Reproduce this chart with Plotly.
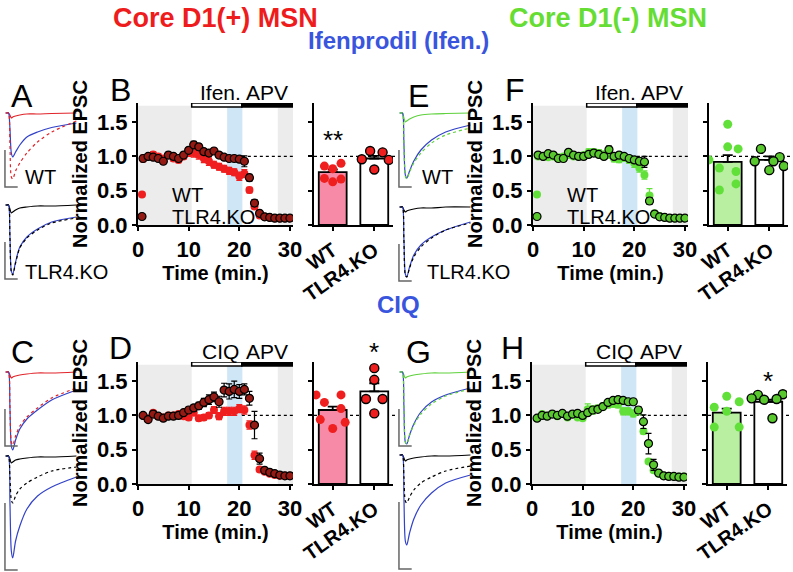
import plotly.graph_objects as go

W, H = 793, 572
FONT = "Liberation Sans, Arial, sans-serif"

# ---------------- data ----------------
minutes = list(range(1, 31))

B_wt = [0.97, 1.00, 1.03, 1.00, 0.97, 1.02, 0.97, 0.95, 1.00, 1.05, 1.05, 1.02, 0.97, 0.93, 0.88,
        0.85, 0.82, 0.79, 0.77, 0.71, 0.75, 0.51, 0.27, 0.14, 0.12, 0.11, 0.10, 0.10, 0.10, 0.10]
B_wt_err = [0.05, 0.04, 0.04, 0.04, 0.04, 0.03, 0.04, 0.04, 0.04, 0.05, 0.06, 0.06, 0.06, 0.06, 0.05,
            0.05, 0.05, 0.05, 0.05, 0.06, 0.06, 0.04, 0.03, 0.02, 0.01, 0.01, 0.01, 0.01, 0.01, 0.01]
B_ko = [0.97, 1.00, 0.99, 0.97, 0.93, 1.02, 1.00, 0.97, 1.02, 1.09, 1.17, 1.14, 1.07, 1.05, 1.08,
        1.02, 0.99, 0.97, 0.97, 0.96, 0.93, 0.69, 0.32, 0.17, 0.12, 0.11, 0.10, 0.10, 0.10, 0.10]
B_ko_err = [0.03, 0.03, 0.03, 0.03, 0.03, 0.03, 0.03, 0.03, 0.03, 0.04, 0.05, 0.04, 0.04, 0.04, 0.04,
            0.03, 0.03, 0.03, 0.03, 0.04, 0.08, 0.05, 0.05, 0.02, 0.01, 0.01, 0.01, 0.01, 0.01, 0.01]

F_wt = [1.00, 1.00, 0.99, 1.00, 0.99, 1.00, 1.02, 1.00, 1.00, 1.02, 1.06, 1.06, 1.05, 1.03, 1.02,
        0.97, 0.96, 0.98, 0.95, 0.90, 0.83, 0.73, 0.43, 0.17, 0.13, 0.11, 0.10, 0.10, 0.10, 0.10]
F_wt_err = [0.02, 0.02, 0.02, 0.02, 0.02, 0.02, 0.02, 0.02, 0.02, 0.03, 0.05, 0.05, 0.05, 0.05, 0.05,
            0.05, 0.05, 0.05, 0.05, 0.06, 0.06, 0.06, 0.10, 0.03, 0.01, 0.01, 0.01, 0.01, 0.01, 0.01]
F_ko = [1.02, 1.00, 1.04, 1.02, 0.97, 0.97, 1.06, 1.02, 1.00, 1.00, 1.03, 1.05, 1.03, 1.00, 1.10,
        1.00, 1.02, 1.00, 0.97, 0.95, 0.93, 0.92, 0.35, 0.16, 0.12, 0.11, 0.10, 0.10, 0.10, 0.10]
F_ko_err = [0.02, 0.02, 0.02, 0.02, 0.02, 0.02, 0.02, 0.02, 0.02, 0.03, 0.03, 0.03, 0.03, 0.03, 0.05,
            0.03, 0.03, 0.03, 0.04, 0.04, 0.05, 0.08, 0.05, 0.02, 0.01, 0.01, 0.01, 0.01, 0.01, 0.01]

D_wt = [1.00, 0.96, 1.04, 0.99, 0.97, 1.00, 1.00, 1.02, 0.99, 0.97, 1.04, 0.96, 0.97, 1.00, 1.08,
        0.99, 1.06, 1.06, 1.06, 1.10, 1.08, 0.86, 0.42, 0.21, 0.18, 0.15, 0.13, 0.12, 0.12, 0.12]
D_wt_err = [0.03, 0.03, 0.03, 0.03, 0.03, 0.03, 0.03, 0.03, 0.03, 0.04, 0.04, 0.04, 0.04, 0.04, 0.05,
            0.05, 0.06, 0.06, 0.06, 0.06, 0.06, 0.06, 0.06, 0.03, 0.02, 0.02, 0.01, 0.01, 0.01, 0.01]
D_ko = [1.00, 0.94, 1.02, 0.99, 0.96, 0.99, 0.99, 1.00, 1.04, 1.08, 1.11, 1.14, 1.19, 1.23, 1.27,
        1.20, 1.37, 1.35, 1.38, 1.35, 1.38, 1.25, 0.86, 0.37, 0.20, 0.17, 0.15, 0.13, 0.12, 0.12]
D_ko_err = [0.03, 0.03, 0.03, 0.03, 0.03, 0.03, 0.03, 0.03, 0.03, 0.04, 0.05, 0.05, 0.06, 0.07, 0.07,
            0.08, 0.10, 0.11, 0.12, 0.10, 0.08, 0.10, 0.20, 0.08, 0.03, 0.02, 0.01, 0.01, 0.01, 0.01]

Hh_wt = [0.96, 1.02, 0.99, 1.02, 0.99, 1.02, 0.97, 1.02, 0.97, 0.96, 1.09, 1.08, 1.10, 1.13, 1.16,
         1.17, 1.16, 1.06, 1.06, 1.03, 1.06, 0.77, 0.33, 0.20, 0.15, 0.12, 0.12, 0.11, 0.11, 0.11]
Hh_wt_err = [0.02, 0.02, 0.02, 0.02, 0.02, 0.02, 0.02, 0.02, 0.02, 0.03, 0.08, 0.06, 0.05, 0.05, 0.05,
             0.05, 0.05, 0.05, 0.05, 0.05, 0.05, 0.04, 0.03, 0.02, 0.01, 0.01, 0.01, 0.01, 0.01, 0.01]
Hh_ko = [0.96, 1.00, 0.99, 1.02, 1.00, 1.03, 0.99, 1.02, 1.03, 1.00, 1.04, 1.08, 1.09, 1.13, 1.19,
         1.22, 1.23, 1.22, 1.20, 1.20, 1.08, 0.91, 0.59, 0.28, 0.16, 0.12, 0.11, 0.11, 0.10, 0.10]
Hh_ko_err = [0.02, 0.02, 0.02, 0.02, 0.02, 0.02, 0.02, 0.02, 0.02, 0.03, 0.03, 0.03, 0.03, 0.03, 0.04,
             0.04, 0.04, 0.04, 0.04, 0.04, 0.05, 0.10, 0.15, 0.08, 0.02, 0.01, 0.01, 0.01, 0.01, 0.01]

# bar summaries (mean, sem) and individual cells (jitter offset, value)
bar_cats = ["WT", "TLR4.KO"]
B_bar_mean = [0.77, 0.97]
B_bar_sem = [0.04, 0.04]
B_wt_pts_x = [-0.2, 0.0, 0.2, -0.2, 0.0, 0.2]
B_wt_pts_y = [0.86, 0.82, 0.90, 0.68, 0.63, 0.67]
B_ko_pts_x = [-0.1, 0.2, -0.3, 0.35, 0.0]
B_ko_pts_y = [1.08, 1.06, 0.96, 0.95, 0.81]

F_bar_mean = [0.92, 0.95]
F_bar_sem = [0.10, 0.05]
F_wt_pts_x = [0.0, 0.0, 0.25, -0.45, -0.2, 0.2, 0.2, -0.2]
F_wt_pts_y = [1.47, 1.14, 1.11, 0.95, 0.83, 0.78, 0.60, 0.51]
F_ko_pts_x = [-0.2, 0.25, -0.35, 0.1, 0.35, 0.0]
F_ko_pts_y = [1.11, 0.99, 0.93, 0.93, 0.86, 0.80]

D_bar_mean = [1.08, 1.35]
D_bar_sem = [0.05, 0.12]
D_wt_pts_x = [-0.4, 0.2, -0.2, 0.2, -0.3, 0.3, 0.0]
D_wt_pts_y = [1.30, 1.30, 1.19, 1.10, 0.94, 0.90, 0.81]
D_ko_pts_x = [0.0, 0.0, -0.2, 0.2, 0.0]
D_ko_pts_y = [1.69, 1.52, 1.24, 1.24, 1.03]

Hh_bar_mean = [1.04, 1.20]
Hh_bar_sem = [0.06, 0.03]
Hh_wt_pts_x = [0.0, 0.3, -0.3, 0.0, -0.3, 0.3]
Hh_wt_pts_y = [1.28, 1.20, 1.12, 1.06, 0.83, 0.83]
Hh_ko_pts_x = [-0.25, 0.35, -0.1, 0.2, -0.4, 0.1]
Hh_ko_pts_y = [1.30, 1.31, 1.23, 1.24, 1.25, 0.96]

ifen_period = [10.6, 20.5]
apv_period = [20.5, 30.6]
baseline_shade = [0.0, 10.6]
sample_shade = [17.6, 20.6]
late_shade = [27.6, 30.6]

# example EPSC traces (time in ms, amplitude in pA-like units)
tr_t = [0, 2, 4, 6, 8, 10, 14, 20, 30, 45, 65, 100]
A_wt_apv = [0, 0, 0, -2, -5, -4, -3, -2, -1, -1, -0.5, 0]
A_wt_ifen = [0, 0, 0, -15, -40, -44, -39, -32, -24, -19, -14.5, -10]
A_wt_ctrl = [0, 0, 0, -30, -64, -66, -58, -50, -40, -29, -19, -8]
A_ko_apv = [0, 0, 0, -4, -8, -7, -5, -3, -2, -1, -1, 0]
A_ko_ifen = [0, 0, 0, -30, -66, -69, -57, -42, -32, -24, -17, -12]
A_ko_ctrl = [0, 0, 0, -32, -67, -70, -58, -43, -33, -25, -18, -13]
C_wt_apv = [0, 0, 0, -3, -6, -5, -4, -3, -2, -1, -1, 0]
C_wt_ciq = [0, 0, 0, -35, -74, -78, -68, -57, -47, -38, -28, -18]
C_wt_ctrl = [0, 0, 0, -33, -70, -73, -64, -54, -45, -36, -26, -16]
C_ko_apv = [0, 0, 0, -3, -7, -6, -4, -3, -2, -1, -1, 0]
C_ko_ciq = [0, 0, 0, -45, -95, -102, -85, -70, -53, -40, -31, -21]
C_ko_ctrl = [0, 0, 0, -20, -44, -47, -40, -33, -27, -21, -15, -11]
E_wt_apv = [0, 0, 0, -5, -9, -8, -6, -4, -2, -1, -0.5, 0]
E_wt_ifen = [0, 0, 0, -30, -62, -65, -58, -48, -37, -27, -19, -12]
E_wt_ctrl = [0, 0, 0, -31, -63, -66, -59, -50, -40, -30, -22, -15]
E_ko_apv = [0, 0, 0, -3, -5, -4, -3, -2, -1, -1, 0, 0]
E_ko_ifen = [0, 0, 0, -32, -67, -70, -60, -48, -38, -30, -23, -15]
E_ko_ctrl = [0, 0, 0, -33, -68, -70, -61, -50, -40, -31, -23, -16]
G_wt_apv = [0, 0, 0, -3, -6, -5, -4, -3, -2, -1, -1, 0]
G_wt_ciq = [0, 0, 0, -34, -70, -72, -63, -52, -40, -30, -23, -16]
G_wt_ctrl = [0, 0, 0, -34, -70, -72, -63, -53, -42, -32, -24, -17]
G_ko_apv = [0, 0, 0, -3, -6, -5, -4, -3, -2, -1, -1, 0]
G_ko_ciq = [0, 0, 0, -42, -86, -90, -78, -64, -50, -38, -28, -20]
G_ko_ctrl = [0, 0, 0, -22, -46, -48, -42, -35, -28, -22, -16, -11]
scale_t = [-1, -1, 17]
scale_amp_short = [-37, -74, -74]
scale_amp_long = [-47, -114, -114]

# ---------------- styling ----------------
RED = "#f01f1f"
DARKRED = "#951a14"
GREEN = "#62e03a"
KOGREEN = "#58c82e"
PINK = "#f78aa7"
LGREEN = "#b8efa0"
BLUE_T = "#3242c8"
TRED = "#e0242a"
TGREEN = "#5ed13c"
GRAY = "#ececec"
LBLUE = "#cfe6f6"


def dx(a, b):
    return [a / W, b / W]


def dy(top, bottom):
    return [1 - bottom / H, 1 - top / H]


fig = go.Figure()
layout = dict(width=W, height=H, margin=dict(l=0, r=0, t=0, b=0, autoexpand=False),
              paper_bgcolor="white", plot_bgcolor="rgba(0,0,0,0)",
              font=dict(family=FONT, color="black", size=20), showlegend=True)
shapes = []
annotations = []

BOLD = dict(family=FONT, size=20, color="black", weight="bold")
TICKF = dict(family=FONT, size=22, color="black", weight="bold")

groups = [
    ("B", 1, 2, 138, 103, (B_wt, B_wt_err, B_ko, B_ko_err), "red", ("legend", "legend2"),
     (B_bar_mean, B_bar_sem, B_wt_pts_x, B_wt_pts_y, B_ko_pts_x, B_ko_pts_y), "Ifen.", "**", 0),
    ("F", 3, 4, 533, 103, (F_wt, F_wt_err, F_ko, F_ko_err), "green", ("legend3", "legend4"),
     (F_bar_mean, F_bar_sem, F_wt_pts_x, F_wt_pts_y, F_ko_pts_x, F_ko_pts_y), "Ifen.", None, 0),
    ("D", 5, 6, 138, 362, (D_wt, D_wt_err, D_ko, D_ko_err), "red", None,
     (D_bar_mean, D_bar_sem, D_wt_pts_x, D_wt_pts_y, D_ko_pts_x, D_ko_pts_y), "CIQ", "*", 1),
    ("H", 7, 8, 532, 362, (Hh_wt, Hh_wt_err, Hh_ko, Hh_ko_err), "green", None,
     (Hh_bar_mean, Hh_bar_sem, Hh_wt_pts_x, Hh_wt_pts_y, Hh_ko_pts_x, Hh_ko_pts_y), "CIQ", "*", 1),
]

YR = [0, 1.78]
PXU = 122 / 1.78
for name, ia, ib, left, top, tc, scheme, leg, bars, drug, star, kostar in groups:
    xa, ya = f"x{ia}", f"y{ia}"
    xb, yb = f"x{ib}", f"y{ib}"
    bottom = top + 122
    wt, wte, ko, koe = tc
    if scheme == "red":
        wtc, koc, wtbar, ptko = RED, DARKRED, PINK, RED
    else:
        wtc, koc, wtbar, ptko = GREEN, KOGREEN, LGREEN, KOGREEN
    fig.add_trace(go.Scatter(x=minutes, y=wt, mode="markers", name="WT", xaxis=xa, yaxis=ya,
                             marker=dict(color=wtc, size=8, line=dict(width=0)),
                             error_y=dict(type="data", array=wte, color=wtc, thickness=1.2, width=3),
                             showlegend=leg is not None, legend=leg[0] if leg else "legend"))
    fig.add_trace(go.Scatter(x=minutes, y=ko, mode="markers", name="TLR4.KO", xaxis=xa, yaxis=ya,
                             marker=dict(color=koc, size=8, line=dict(width=1.2, color="black")),
                             error_y=dict(type="data", array=koe, color="black", thickness=1.2, width=3),
                             showlegend=leg is not None, legend=leg[1] if leg else "legend"))
    ax_common = dict(showgrid=False, zeroline=False, showline=True, linewidth=2, linecolor="black",
                     ticks="outside", ticklen=4, tickwidth=2, tickcolor="black", tickfont=TICKF,
                     automargin=False)
    layout[f"xaxis{ia}"] = dict(domain=dx(left, left + 155), anchor=ya, range=[0, 30.6],
                                tickvals=[0, 10, 20, 30],
                                title=dict(text="Time (min.)", font=BOLD, standoff=0), **ax_common)
    layout[f"yaxis{ia}"] = dict(domain=dy(top, bottom), anchor=xa, range=YR,
                                tickvals=[0, 0.5, 1, 1.5], ticktext=["0.0", "0.5", "1.0", "1.5"],
                                title=dict(text="Normalized EPSC", font=BOLD, standoff=4), **ax_common)
    for (a, b), col in ((baseline_shade, GRAY), (sample_shade, LBLUE), (late_shade, GRAY)):
        shapes.append(dict(type="rect", xref=xa, yref=ya, x0=a, x1=b, y0=0, y1=1.74,
                           fillcolor=col, line=dict(width=0), layer="below"))
    shapes.append(dict(type="line", xref=xa, yref=ya, x0=apv_period[0], x1=apv_period[1], y0=1, y1=1,
                       line=dict(color="black", width=1.2, dash="dot"), layer="below"))
    shapes.append(dict(type="rect", xref=xa, yref=ya, x0=ifen_period[0], x1=ifen_period[1], y0=1.72, y1=1.78,
                       fillcolor="white", line=dict(color="black", width=1.5)))
    shapes.append(dict(type="rect", xref=xa, yref=ya, x0=apv_period[0], x1=apv_period[1], y0=1.72, y1=1.78,
                       fillcolor="black", line=dict(color="black", width=1.5)))
    annotations.append(dict(text=drug, xref=xa, yref="paper", x=sum(ifen_period) / 2 + 0.8,
                            y=1 - (top - 11) / H, showarrow=False, xanchor="center", yanchor="middle",
                            font=dict(family=FONT, size=21)))
    annotations.append(dict(text="APV", xref=xa, yref="paper", x=sum(apv_period) / 2,
                            y=1 - (top - 11) / H, showarrow=False, xanchor="center", yanchor="middle",
                            font=dict(family=FONT, size=21)))
    bmean, bsem, wx, wy, kx, ky = bars
    fig.add_trace(go.Bar(x=[0, 1], y=bmean, xaxis=xb, yaxis=yb, width=0.67, showlegend=False,
                         marker=dict(color=[wtbar, "white"], line=dict(color="black", width=1.8)),
                         error_y=dict(type="data", array=bsem, arrayminus=[0, 0], symmetric=False,
                                      color="black", thickness=1.8, width=5)))
    fig.add_trace(go.Scatter(x=wx, y=wy, xaxis=xb, yaxis=yb, mode="markers", showlegend=False,
                             marker=dict(color=wtc, size=9, line=dict(width=0))))
    fig.add_trace(go.Scatter(x=[1 + v for v in kx], y=ky, xaxis=xb, yaxis=yb, mode="markers", showlegend=False,
                             marker=dict(color=ptko, size=9, line=dict(width=1.4, color="black"))))
    layout[f"xaxis{ib}"] = dict(domain=dx(left + 176, left + 255), anchor=yb, range=[-0.45, 1.45],
                                tickvals=[0, 1], ticktext=bar_cats, tickangle=-35,
                                **{**ax_common, "tickfont": BOLD})
    layout[f"yaxis{ib}"] = dict(domain=dy(top, bottom), anchor=xb, range=YR, tickvals=[0, 0.5, 1, 1.5],
                                showticklabels=False, **ax_common)
    shapes.append(dict(type="line", xref=f"{xb} domain", yref=yb, x0=0, x1=1.05, y0=1, y1=1,
                       line=dict(color="black", width=1.2, dash="dot"), layer="below"))
    if star:
        if name == "B":
            sy_px = 140
        elif name == "D":
            sy_px = bottom - 1.92 * PXU
        else:
            sy_px = bottom - 1.50 * PXU
        annotations.append(dict(text=star, xref=xb, yref="paper", x=kostar, y=1 - sy_px / H,
                                showarrow=False, xanchor="center", yanchor="middle",
                                font=dict(family=FONT, size=26)))

# legends (one per entry so the rows sit close together)
for lg, lx, ly in (("legend", 112, 175), ("legend2", 112, 197), ("legend3", 507, 175), ("legend4", 507, 197)):
    layout[lg] = dict(x=lx / W, y=1 - ly / H, xanchor="left", yanchor="top", bgcolor="rgba(0,0,0,0)",
                      font=dict(family=FONT, size=20), itemwidth=50, tracegroupgap=0)

trace_panels = [
    (9, 0, 113, 80, [(A_wt_apv, TRED, "solid"), (A_wt_ifen, BLUE_T, "solid"), (A_wt_ctrl, TRED, "dot")], scale_amp_short),
    (10, 0, 205, 80, [(A_ko_apv, "black", "solid"), (A_ko_ifen, BLUE_T, "solid"), (A_ko_ctrl, "black", "dot")], scale_amp_short),
    (11, 0, 372, 90, [(C_wt_apv, TRED, "solid"), (C_wt_ciq, BLUE_T, "solid"), (C_wt_ctrl, TRED, "dot")], scale_amp_short),
    (12, 0, 456, 116, [(C_ko_apv, "black", "solid"), (C_ko_ciq, BLUE_T, "solid"), (C_ko_ctrl, "black", "dot")], scale_amp_long),
    (13, 394, 113, 80, [(E_wt_apv, TGREEN, "solid"), (E_wt_ifen, BLUE_T, "solid"), (E_wt_ctrl, TGREEN, "dot")], scale_amp_short),
    (14, 394, 207, 80, [(E_ko_apv, "black", "solid"), (E_ko_ifen, BLUE_T, "solid"), (E_ko_ctrl, "black", "dot")], scale_amp_short),
    (15, 394, 372, 90, [(G_wt_apv, TGREEN, "solid"), (G_wt_ciq, BLUE_T, "solid"), (G_wt_ctrl, TGREEN, "dot")], scale_amp_short),
    (16, 394, 455, 116, [(G_ko_apv, "black", "solid"), (G_ko_ciq, BLUE_T, "solid"), (G_ko_ctrl, "black", "dot")], scale_amp_long),
]
for idx, left, base, depth, trs, samp in trace_panels:
    xa, ya = f"x{idx}", f"y{idx}"
    for yv, col, dash in trs:
        fig.add_trace(go.Scatter(x=tr_t, y=yv, xaxis=xa, yaxis=ya, mode="lines", showlegend=False,
                                 line=dict(color=col, width=1.2, dash=dash, shape="spline", smoothing=0.8)))
    fig.add_trace(go.Scatter(x=scale_t, y=samp, xaxis=xa, yaxis=ya, mode="lines", showlegend=False,
                             line=dict(color="#666666", width=1.5)))
    layout[f"xaxis{idx}"] = dict(domain=dx(left, left + 80), anchor=ya, range=[-8, 105], visible=False)
    layout[f"yaxis{idx}"] = dict(domain=dy(base - 12, base + depth), anchor=xa, range=[-depth, 12], visible=False)


def txt(s, x, y, size=20, color="black", bold=False):
    annotations.append(dict(text=s, xref="paper", yref="paper", x=x / W, y=1 - y / H, showarrow=False,
                            xanchor="center", yanchor="middle",
                            font=dict(family=FONT, size=size, color=color, weight="bold" if bold else "normal")))


txt("Core D1(+) MSN", 215, 18, 27, "#ee1c1c", True)
txt("Core D1(-) MSN", 608, 18, 27, "#66dd33", True)
txt("Ifenprodil (Ifen.)", 398, 41, 24, "#3a55dd", True)
txt("CIQ", 398, 304, 24, "#3a55dd", True)
for s, x, y in (("A", 22, 96), ("B", 120, 90), ("C", 22, 352), ("D", 120, 348),
                ("E", 418, 96), ("F", 515, 90), ("G", 418, 352), ("H", 512, 348)):
    txt(s, x, y, 32)
txt("WT", 40, 177, 20)
txt("TLR4.KO", 66, 272, 20)
txt("WT", 437, 177, 20)
txt("TLR4.KO", 468, 272, 20)

layout["shapes"] = shapes
layout["annotations"] = annotations
fig.update_layout(**layout)
fig.write_html("out.html", config={"displayModeBar": False, "staticPlot": True},
               post_script="document.body.style.margin='0';")
